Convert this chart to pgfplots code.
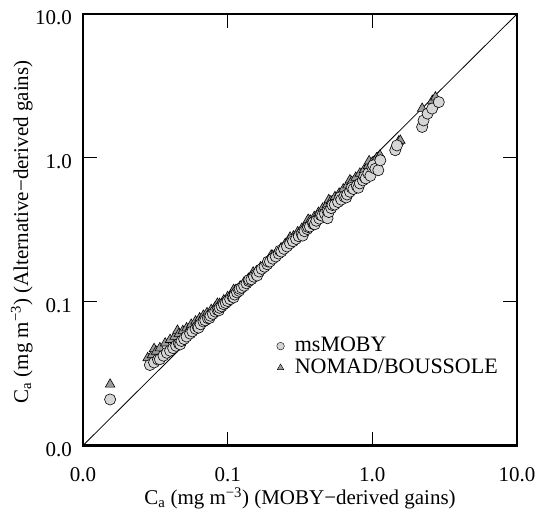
\documentclass[border=0pt]{standalone}
\usepackage{pgfplots}
\pgfplotsset{compat=1.18}
\usepackage{fontspec}
\setmainfont{Liberation Serif}
\definecolor{circfill}{HTML}{D6D6D6}
\definecolor{trifill}{HTML}{9C9C9C}
\begin{document}
\fontsize{21bp}{25bp}\selectfont
\begin{tikzpicture}
\path[use as bounding box] (-83bp,-64.5bp) rectangle (455bp,445.5bp);
\begin{axis}[
  at={(0,0)}, anchor=south west,
  scale only axis, width=434bp, height=431.5bp,
  xmode=log, ymode=log,
  xmin=0.01, xmax=10, ymin=0.01, ymax=10,
  xtick={0.01,0.1,1,10}, xticklabels={0.0,0.1,1.0,10.0},
  ytick={0.01,0.1,1,10}, yticklabels={0.0,0.1,1.0,10.0},
  minor tick style={draw=none},
  tick align=inside, major tick length=14bp,
  tick style={black, line width=0.8bp},
  axis line style={line width=2.6bp},
  tick label style={font=\fontsize{21bp}{25bp}\selectfont},
  xticklabel style={yshift=-15bp},
  yticklabel style={xshift=-4bp, yshift=-4bp},
  label style={font=\fontsize{21bp}{25bp}\selectfont},
  xlabel={C\textsubscript{a} (mg m\textsuperscript{−3}) (MOBY−derived gains)},
  ylabel={C\textsubscript{a} (mg m\textsuperscript{−3}) (Alternative−derived gains)},
  xlabel style={at={(axis description cs:0.5,0)}, anchor=base, yshift=-59bp},
  ylabel style={at={(axis description cs:-0.1267,0.495)}, anchor=base},
  reverse legend,
  legend image post style={mark size=3.8bp, line width=0.4bp},
  legend style={at={(axis description cs:0.446,0.256)}, anchor=north west,
    draw=none, fill=none, inner sep=0pt, row sep=0bp, column sep=8.5bp,
    font=\fontsize{22bp}{26bp}\selectfont, cells={anchor=west}},
]
\addplot[black, line width=0.8bp, no marks, forget plot] coordinates {(0.01,0.01) (10,10)};
\addplot[only marks, mark=triangle*, mark size=5.6bp, draw=black, fill=trifill, line width=0.6bp]
table {
x y
0.0154 0.0266
0.028 0.0406
0.030 0.0426
0.031 0.0470
0.032 0.0451
0.034 0.0476
0.037 0.0514
0.040 0.0544
0.043 0.0572
0.045 0.0630
0.046 0.0598
0.049 0.0627
0.052 0.0655
0.055 0.0660
0.056 0.0694
0.060 0.0732
0.063 0.0720
0.064 0.0768
0.068 0.0802
0.072 0.0835
0.077 0.0878
0.082 0.0918
0.085 0.0970
0.088 0.0968
0.094 0.1025
0.100 0.108
0.107 0.1145
0.110 0.121
0.114 0.121
0.122 0.128
0.130 0.1365
0.139 0.1445
0.148 0.154
0.150 0.160
0.158 0.163
0.169 0.174
0.180 0.184
0.192 0.196
0.200 0.210
0.205 0.209
0.219 0.221
0.234 0.236
0.250 0.2525
0.267 0.267
0.270 0.280
0.285 0.285
0.305 0.305
0.326 0.323
0.348 0.345
0.360 0.372
0.372 0.368
0.397 0.389
0.424 0.416
0.453 0.444
0.484 0.469
0.500 0.510
0.517 0.501
0.552 0.535
0.590 0.566
0.630 0.605
0.673 0.646
0.700 0.700
0.719 0.683
0.768 0.730
0.820 0.779
0.876 0.823
0.935 0.879
0.950 0.950
1.00 0.930
1.07 0.995
1.13 1.04
1.52 1.30
1.56 1.32
2.21 2.20
2.60 2.50
2.73 2.64
};
\addlegendentry{NOMAD/BOUSSOLE}
\addplot[only marks, mark=*, mark size=5.6bp, draw=black, fill=circfill, line width=0.6bp]
table {
x y
0.0154 0.0209
0.029 0.0363
0.031 0.0378
0.033 0.0396
0.034 0.0398
0.036 0.0421
0.038 0.0441
0.040 0.0456
0.042 0.0475
0.044 0.0493
0.046 0.0511
0.047 0.0505
0.048 0.0533
0.050 0.0550
0.052 0.0572
0.055 0.0600
0.057 0.0621
0.060 0.0648
0.062 0.0670
0.063 0.0660
0.065 0.0696
0.068 0.0728
0.070 0.0742
0.073 0.0767
0.075 0.0770
0.076 0.0798
0.079 0.0822
0.082 0.0853
0.085 0.0876
0.087 0.0870
0.088 0.0906
0.091 0.0928
0.094 0.0959
0.097 0.0980
0.100 0.101
0.104 0.104
0.108 0.108
0.110 0.107
0.112 0.112
0.116 0.116
0.120 0.119
0.121 0.123
0.125 0.125
0.130 0.129
0.135 0.134
0.140 0.139
0.141 0.142
0.146 0.143
0.152 0.149
0.158 0.155
0.160 0.152
0.165 0.162
0.172 0.169
0.180 0.175
0.188 0.182
0.190 0.190
0.196 0.190
0.205 0.199
0.215 0.206
0.225 0.216
0.230 0.226
0.235 0.223
0.245 0.233
0.257 0.242
0.270 0.254
0.280 0.270
0.283 0.263
0.297 0.273
0.310 0.285
0.325 0.296
0.330 0.288
0.340 0.309
0.355 0.320
0.360 0.330
0.370 0.333
0.390 0.347
0.391 0.356
0.400 0.345
0.410 0.365
0.430 0.378
0.440 0.400
0.450 0.396
0.470 0.409
0.490 0.426
0.490 0.380
0.500 0.420
0.520 0.447
0.530 0.470
0.550 0.473
0.580 0.493
0.600 0.532
0.610 0.512
0.640 0.538
0.660 0.530
0.670 0.556
0.700 0.581
0.720 0.620
0.740 0.607
0.780 0.640
0.800 0.620
0.820 0.664
0.860 0.697
0.880 0.740
0.900 0.720
0.938 0.780
0.970 0.750
1.00 0.860
1.016 0.887
1.05 0.840
1.10 0.820
1.136 0.961
1.44 1.13
1.48 1.22
2.21 1.64
2.26 1.82
2.41 2.03
2.59 2.20
2.88 2.44
};
\addlegendentry{msMOBY}
\end{axis}
\end{tikzpicture}
\end{document}
